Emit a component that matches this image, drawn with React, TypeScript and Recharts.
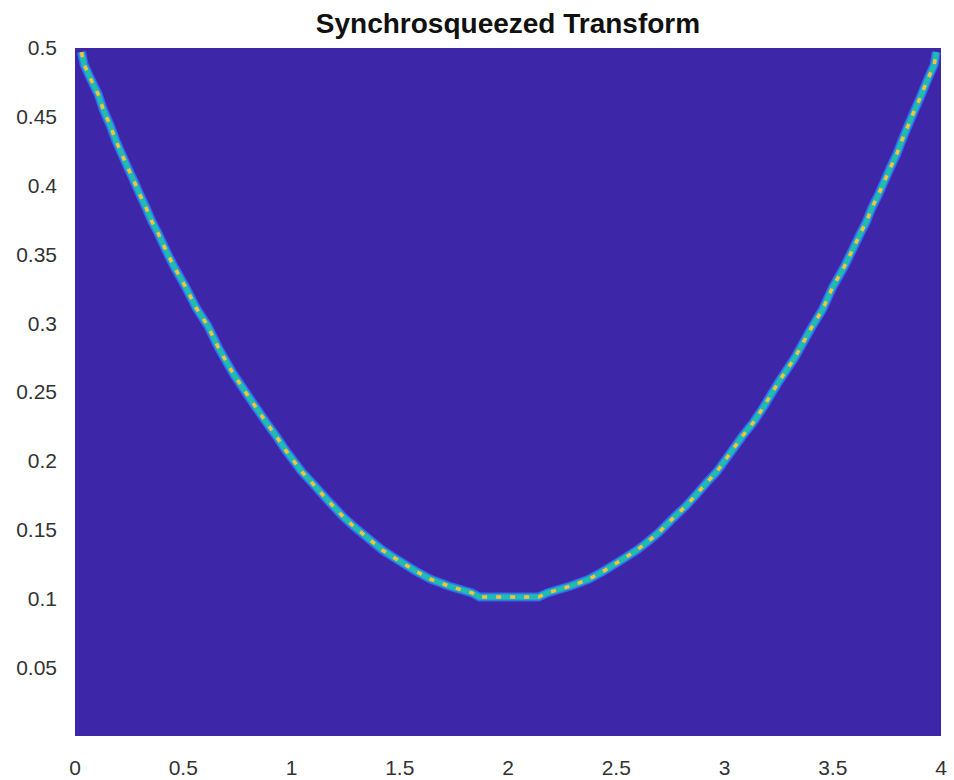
import React from "react";
import { LineChart, Line, XAxis, YAxis, ReferenceArea } from "recharts";

// ridge of the synchrosqueezed transform
const times = [
  0.03, 0.042, 0.077, 0.108, 0.131, 0.162, 0.188, 0.216, 0.244, 0.273, 0.301,
  0.328, 0.355, 0.382, 0.429, 0.458, 0.512, 0.56, 0.614, 0.663, 0.732, 0.809,
  0.883, 0.929, 0.976, 1.048, 1.095, 1.169, 1.241, 1.29, 1.344, 1.421, 1.48,
  1.572, 1.642, 1.726, 1.834, 1.868, 2.141, 2.181, 2.289, 2.374, 2.443, 2.535,
  2.594, 2.644, 2.697, 2.767, 2.821, 2.867, 2.917, 2.964, 3.01, 3.083, 3.129,
  3.18, 3.249, 3.325, 3.399, 3.453, 3.499, 3.553, 3.581, 3.63, 3.656, 3.681,
  3.71, 3.738, 3.766, 3.796, 3.82, 3.849, 3.876, 3.904, 3.935, 3.969, 3.978,
];
const freqs = [
  0.497, 0.488, 0.476, 0.466, 0.455, 0.444, 0.433, 0.423, 0.413, 0.403, 0.393,
  0.384, 0.374, 0.366, 0.35, 0.341, 0.326, 0.311, 0.298, 0.282, 0.263, 0.245,
  0.228, 0.218, 0.207, 0.192, 0.184, 0.171, 0.159, 0.152, 0.145, 0.135, 0.129,
  0.12, 0.114, 0.109, 0.104, 0.101, 0.101, 0.104, 0.109, 0.114, 0.12, 0.129,
  0.135, 0.141, 0.148, 0.159, 0.167, 0.175, 0.184, 0.192, 0.202, 0.218, 0.227,
  0.239, 0.257, 0.275, 0.296, 0.31, 0.326, 0.341, 0.35, 0.366, 0.374, 0.384,
  0.393, 0.403, 0.413, 0.423, 0.433, 0.444, 0.454, 0.464, 0.476, 0.488, 0.497,
];
const xTicks = [0, 0.5, 1, 1.5, 2, 2.5, 3, 3.5, 4];
const yTicks = [0.05, 0.1, 0.15, 0.2, 0.25, 0.3, 0.35, 0.4, 0.45, 0.5];

const data = times.map((t, i) => ({ t, f: freqs[i] }));

const tickStyle = { fontSize: 21, fill: "#333", fontFamily: "Liberation Sans, Arial, sans-serif" };

export default function App() {
  return (
    <div style={{ position: "absolute", left: 0, top: 0, width: 954, height: 780, background: "#fff" }}>
      <div
        style={{
          position: "absolute",
          left: 75,
          width: 866,
          top: 8,
          textAlign: "center",
          fontFamily: "Liberation Sans, Arial, sans-serif",
          fontWeight: "bold",
          fontSize: 28,
          color: "#111",
        }}
      >
        Synchrosqueezed Transform
      </div>
      <LineChart width={954} height={780} data={data} margin={{ top: 48, right: 13, bottom: 0, left: 0 }}>
        <XAxis
          dataKey="t"
          type="number"
          domain={[0, 4]}
          ticks={xTicks}
          axisLine={false}
          tickLine={false}
          tickMargin={18}
          height={44}
          tick={tickStyle}
          interval={0}
        />
        <YAxis
          type="number"
          domain={[0, 0.5]}
          ticks={yTicks}
          axisLine={false}
          tickLine={false}
          tickMargin={12}
          width={75}
          tick={tickStyle}
          interval={0}
        />
        <ReferenceArea x1={0} x2={4} y1={0} y2={0.5} fill="#3E26A8" fillOpacity={1} stroke="none" />
        <Line dataKey="f" type="linear" stroke="#3A62EE" strokeWidth={9} dot={false} isAnimationActive={false} />
        <Line dataKey="f" type="linear" stroke="#1E9FE0" strokeWidth={6.5} dot={false} isAnimationActive={false} />
        <Line dataKey="f" type="linear" stroke="#22BDAA" strokeWidth={4.5} dot={false} isAnimationActive={false} />
        <Line
          dataKey="f"
          type="linear"
          stroke="#F5C23A"
          strokeWidth={3.5}
          strokeDasharray="5 9"
          dot={false}
          isAnimationActive={false}
        />
      </LineChart>
    </div>
  );
}
